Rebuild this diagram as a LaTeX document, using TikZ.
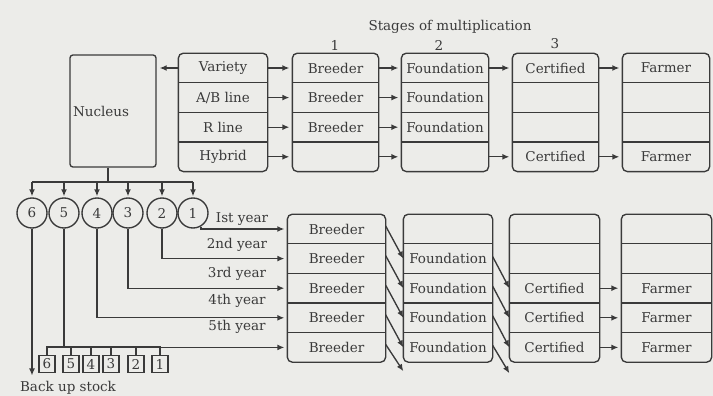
\documentclass[tikz,border=0pt]{standalone}
\usepackage{fontspec}
\setmainfont{DejaVu Serif}
\usetikzlibrary{positioning,arrows.meta}

\definecolor{paper}{RGB}{236,236,233}
\definecolor{ink}{RGB}{58,58,58}

\tikzset{
  cell/.style={minimum width=#1, minimum height=28.25pt, inner sep=0pt},
  box/.style={draw, rounded corners=5pt},
  flow/.style={-{Latex[length=7pt,width=6pt]}, shorten >=3pt},
  circ/.style={draw, circle, minimum size=30pt, inner sep=0pt},
  stock/.style={draw, minimum width=16pt, minimum height=17pt, inner sep=0pt}
}

\begin{document}
\begin{tikzpicture}[x=1pt, y=-1pt, line width=1.35pt, color=ink,
    font=\fontsize{13.5}{16}\selectfont]
    \fill[paper] (0,0) rectangle (713,396);
    \useasboundingbox (0,0) rectangle (713,396);

    \node (title) at (450,27) {Stages of multiplication};
    \node (st1) at (335,45) {1};
    \node (st2) at (439,45) {2};
    \node (st3) at (555,44) {3};

    \node[draw, rounded corners=3pt, text width=80pt, inner sep=3pt,
        minimum height=112pt, align=left] (nucleus) at (113,111) {Nucleus};

    % top stages
    \node[cell=88pt] (src1) at (223,68) {Variety};
    \node[cell=88pt, below=0pt of src1] (src2) {A/B line};
    \node[cell=88pt, below=0pt of src2] (src3) {R line};
    \node[cell=88pt, below=0pt of src3] (src4) {Hybrid};

    \node[cell=85pt] (bre1) at (335.5,68) {Breeder};
    \node[cell=85pt, below=0pt of bre1] (bre2) {Breeder};
    \node[cell=85pt, below=0pt of bre2] (bre3) {Breeder};
    \node[cell=85pt, below=0pt of bre3] (bre4) {};

    \node[cell=86pt] (fou1) at (445,68) {Foundation};
    \node[cell=86pt, below=0pt of fou1] (fou2) {Foundation};
    \node[cell=86pt, below=0pt of fou2] (fou3) {Foundation};
    \node[cell=86pt, below=0pt of fou3] (fou4) {};

    \node[cell=85pt] (cer1) at (555.5,68) {Certified};
    \node[cell=85pt, below=0pt of cer1] (cer2) {};
    \node[cell=85pt, below=0pt of cer2] (cer3) {};
    \node[cell=85pt, below=0pt of cer3] (cer4) {Certified};

    \node[cell=86pt] (far1) at (666,68) {Farmer};
    \node[cell=86pt, below=0pt of far1] (far2) {};
    \node[cell=86pt, below=0pt of far2] (far3) {};
    \node[cell=86pt, below=0pt of far3] (far4) {Farmer};

    \foreach \col in {src,bre,fou,cer,far} {
        \draw[box] (\col1.north west) rectangle (\col4.south east);
        \foreach \rw in {1,2,3}
            \draw (\col\rw.south west) -- (\col\rw.south east);
    }

    \draw[flow] (src1.west) -- (src1.west -| nucleus.east);
    \draw[flow] (src1.east) -- (bre1.west);
    \draw[flow] (bre1.east) -- (fou1.west);
    \draw[flow] (fou1.east) -- (cer1.west);
    \draw[flow] (cer1.east) -- (far1.west);
    \draw[flow] (src2.east) -- (bre2.west);
    \draw[flow] (bre2.east) -- (fou2.west);
    \draw[flow] (src3.east) -- (bre3.west);
    \draw[flow] (bre3.east) -- (fou3.west);
    \draw[flow] (src4.east) -- (bre4.west);
    \draw[flow] (bre4.east) -- (fou4.west);
    \draw[flow] (fou4.east) -- (cer4.west);
    \draw[flow] (cer4.east) -- (far4.west);

    % nucleus seed lots
    \node[circ] (c6) at (32,213) {6};
    \node[circ] (c5) at (64,213) {5};
    \node[circ] (c4) at (97,213) {4};
    \node[circ] (c3) at (128,213) {3};
    \node[circ] (c2) at (162,213) {2};
    \node[circ] (c1) at (193,213) {1};

    \coordinate (fork) at (108,182);
    \draw (fork |- nucleus.south) -- (fork);
    \draw (c6 |- fork) -- (c1 |- fork);
    \foreach \k in {1,...,6}
        \draw[flow, shorten >=1pt] (c\k |- fork) -- (c\k.north);

    % yearly stages
    \node[cell=97pt] (lbre1) at (336.5,229) {Breeder};
    \node[cell=97pt, below=0pt of lbre1] (lbre2) {Breeder};
    \node[cell=97pt, below=0pt of lbre2] (lbre3) {Breeder};
    \node[cell=97pt, below=0pt of lbre3] (lbre4) {Breeder};
    \node[cell=97pt, below=0pt of lbre4] (lbre5) {Breeder};

    \node[cell=88pt] (lfou1) at (448,229) {};
    \node[cell=88pt, below=0pt of lfou1] (lfou2) {Foundation};
    \node[cell=88pt, below=0pt of lfou2] (lfou3) {Foundation};
    \node[cell=88pt, below=0pt of lfou3] (lfou4) {Foundation};
    \node[cell=88pt, below=0pt of lfou4] (lfou5) {Foundation};

    \node[cell=89pt] (lcer1) at (554.5,229) {};
    \node[cell=89pt, below=0pt of lcer1] (lcer2) {};
    \node[cell=89pt, below=0pt of lcer2] (lcer3) {Certified};
    \node[cell=89pt, below=0pt of lcer3] (lcer4) {Certified};
    \node[cell=89pt, below=0pt of lcer4] (lcer5) {Certified};

    \node[cell=89pt] (lfar1) at (666.5,229) {};
    \node[cell=89pt, below=0pt of lfar1] (lfar2) {};
    \node[cell=89pt, below=0pt of lfar2] (lfar3) {Farmer};
    \node[cell=89pt, below=0pt of lfar3] (lfar4) {Farmer};
    \node[cell=89pt, below=0pt of lfar4] (lfar5) {Farmer};

    \foreach \col in {lbre,lfou,lcer,lfar} {
        \draw[box] (\col1.north west) rectangle (\col5.south east);
        \foreach \rw in {1,2,3,4}
            \draw (\col\rw.south west) -- (\col\rw.south east);
    }

    \draw[flow] (c1.-60) |- (lbre1.west);
    \draw[flow] (c2.south) |- (lbre2.west);
    \draw[flow] (c3.south) |- (lbre3.west);
    \draw[flow] (c4.south) |- (lbre4.west);
    \draw[flow] (c5.south) |- (lbre5.west);

    \node (yr1) at (242,219) {Ist year};
    \node (yr2) at (237,245) {2nd year};
    \node (yr3) at (237,274) {3rd year};
    \node (yr4) at (237,301) {4th year};
    \node (yr5) at (237,327) {5th year};

    \coordinate (foutail) at ([yshift=-9pt]lfou5.south west);
    \coordinate (certail) at ([yshift=-11pt]lcer5.south west);
    \draw[flow, shorten >=0pt] ([yshift=3pt]lbre1.east) -- (lfou2.west);
    \draw[flow, shorten >=0pt] ([yshift=3pt]lbre2.east) -- (lfou3.west);
    \draw[flow, shorten >=0pt] ([yshift=3pt]lbre3.east) -- (lfou4.west);
    \draw[flow, shorten >=0pt] ([yshift=3pt]lbre4.east) -- (lfou5.west);
    \draw[flow, shorten >=0pt] ([yshift=3pt]lbre5.east) -- (foutail);
    \draw[flow, shorten >=0pt] ([yshift=2pt]lfou2.east) -- (lcer3.west);
    \draw[flow, shorten >=0pt] ([yshift=2pt]lfou3.east) -- (lcer4.west);
    \draw[flow, shorten >=0pt] ([yshift=2pt]lfou4.east) -- (lcer5.west);
    \draw[flow, shorten >=0pt] ([yshift=2pt]lfou5.east) -- (certail);
    \draw[flow] (lcer3.east) -- (lfar3.west);
    \draw[flow] (lcer4.east) -- (lfar4.west);
    \draw[flow] (lcer5.east) -- (lfar5.west);

    % back up stock
    \node[stock] (s6) at (47,364) {6};
    \node[stock] (s5) at (71,364) {5};
    \node[stock] (s4) at (91,364) {4};
    \node[stock] (s3) at (111,364) {3};
    \node[stock] (s2) at (136,364) {2};
    \node[stock] (s1) at (160,364) {1};
    \coordinate (sbar) at (64,347);
    \draw (c5.south) -- (c5.south |- sbar);
    \draw (s6.north) |- (s1.north |- sbar) -- (s1.north);
    \foreach \k in {2,...,5}
        \draw (s\k.north) -- (s\k.north |- sbar);

    \node (backup) at (68,388) {Back up stock};
    \draw[flow, shorten >=2pt] (c6.south) -- (c6.south |- backup.north);
\end{tikzpicture}
\end{document}
